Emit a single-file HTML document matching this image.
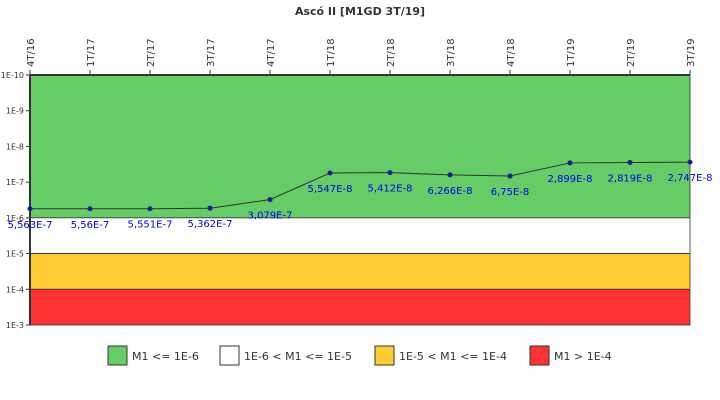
<!DOCTYPE html>
<html><head><meta charset="utf-8"><style>
body{margin:0;background:#fff;}
svg{display:block;font-family:"DejaVu Sans","Liberation Sans",sans-serif;}
</style></head><body>
<svg id="chart" width="720" height="400">
<text x="360" y="15" text-anchor="middle" font-size="11" font-weight="bold" fill="#333">Ascó II [M1GD 3T/19]</text>
<g id="bands"></g><g id="axes"></g><g id="series"></g>
<g id="legend"></g>
</svg>
<script>
const categories=["4T/16","1T/17","2T/17","3T/17","4T/17","1T/18","2T/18","3T/18","4T/18","1T/19","2T/19","3T/19"];
const values=[5.563e-7,5.56e-7,5.551e-7,5.362e-7,3.079e-7,5.547e-8,5.412e-8,6.266e-8,6.75e-8,2.899e-8,2.819e-8,2.747e-8];
const valueLabels=["5,563E-7","5,56E-7","5,551E-7","5,362E-7","3,079E-7","5,547E-8","5,412E-8","6,266E-8","6,75E-8","2,899E-8","2,819E-8","2,747E-8"];
const tickExps=[-10,-9,-8,-7,-6,-5,-4,-3];
const bandLimits=[[-10,-6],[-6,-5],[-5,-4],[-4,-3]];
const bandColors=["#66cc66","#ffffff","#ffcc33","#ff3333"];
const legendLabels=["M1 <= 1E-6","1E-6 < M1 <= 1E-5","1E-5 < M1 <= 1E-4","M1 > 1E-4"];
const X0=30,X1=690,Y0=75,Y1=325;
const NS="http://www.w3.org/2000/svg";
const xs=i=>X0+i*(X1-X0)/(categories.length-1);
const ys=e=>Y0+(e+10)*(Y1-Y0)/7;
const yv=v=>ys(Math.log10(v));
function mk(t,a,p){const e=document.createElementNS(NS,t);for(const k in a)e.setAttribute(k,a[k]);p.appendChild(e);return e;}
const bands=document.getElementById('bands');
bandLimits.forEach((b,i)=>{
 const r=mk('rect',{x:X0,y:ys(b[0]),width:X1-X0,height:ys(b[1])-ys(b[0]),fill:bandColors[i],stroke:'#333','stroke-width':0.8},bands);
 
 
});
const axes=document.getElementById('axes');
mk('line',{x1:X0,y1:Y0,x2:X1,y2:Y0,stroke:'#333','stroke-width':2},axes);
const ya=mk('line',{x1:X0,y1:Y0,x2:X0,y2:Y1,stroke:'#333','stroke-width':2},axes);


tickExps.forEach(e=>{
 mk('line',{x1:X0-4,y1:ys(e),x2:X0,y2:ys(e),stroke:'#333'},axes);
 const t=mk('text',{x:X0-6,y:ys(e)+3,'text-anchor':'end','font-size':8,fill:'#333'},axes);
 t.textContent='1E'+e;
 
 
});
categories.forEach((c,i)=>{
 mk('line',{x1:xs(i),y1:Y0-5,x2:xs(i),y2:Y0,stroke:'#333'},axes);
 const t=mk('text',{x:0,y:0,transform:`translate(${xs(i)+4},${Y0-8}) rotate(-90)`,'font-size':10,fill:'#333'},axes);
 t.textContent=c;
 
 
});
const s=document.getElementById('series');
const ln=mk('polyline',{points:values.map((v,i)=>xs(i)+','+yv(v)).join(' '),fill:'none',stroke:'#333','stroke-width':1},s);


values.forEach((v,i)=>{
 const c=mk('circle',{cx:xs(i),cy:yv(v),r:2.5,fill:'#1a1aa0'},s);
 
 
 const t=mk('text',{x:xs(i),y:yv(v)+19,'text-anchor':'middle','font-size':10,fill:'#0000ee'},s);
 t.textContent=valueLabels[i];
 
 
});
const lg=document.getElementById('legend');
const lx=[108,220,375,530];
legendLabels.forEach((l,i)=>{
 const r=mk('rect',{x:lx[i],y:346,width:19,height:19,fill:bandColors[i],stroke:'#333'},lg);
 
 
 const t=mk('text',{x:lx[i]+24,y:360,'font-size':11,fill:'#333'},lg);
 t.textContent=l;
 
 
});
</script>
</body></html>
